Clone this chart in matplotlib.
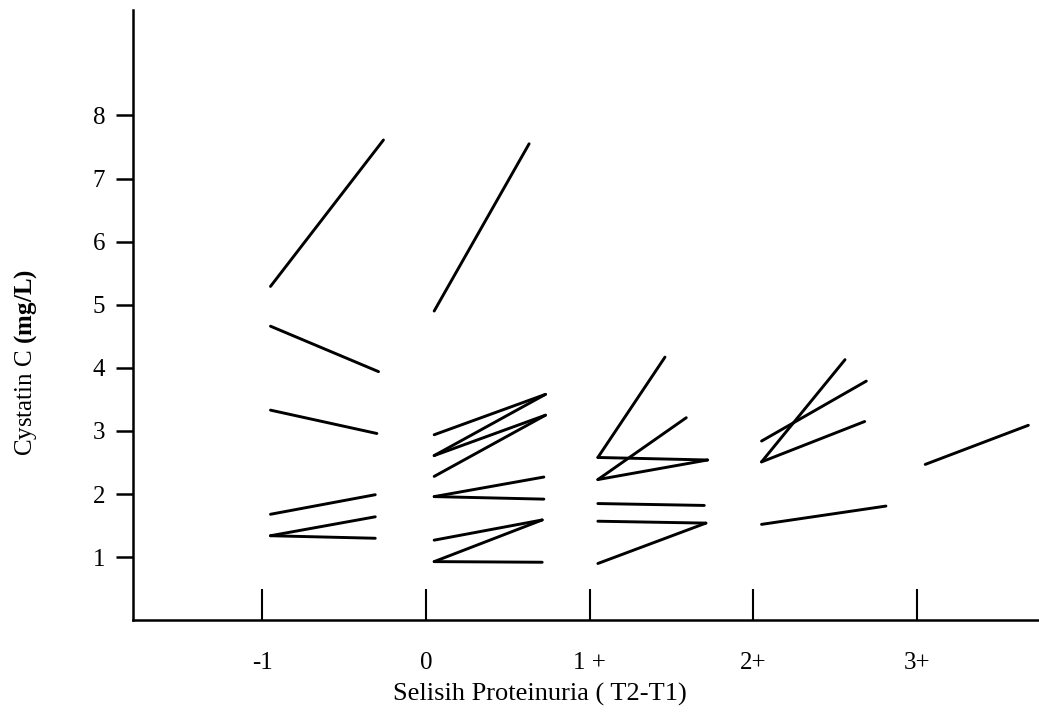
import matplotlib
matplotlib.use("Agg")
import matplotlib.pyplot as plt

plt.rcParams['font.family'] = ['Liberation Serif', 'DejaVu Serif']
plt.rcParams['mathtext.fontset'] = 'custom'
plt.rcParams['mathtext.rm'] = 'Liberation Serif'
plt.rcParams['mathtext.bf'] = 'Liberation Serif:bold'

# categories of proteinuria difference (T2-T1)
categories = ['-1', '0', '1 +', '2+', '3+']

# cystatin C at T1 and T2 for each patient, per category
t1_m1 = [5.29, 4.66, 3.33, 1.68, 1.34, 1.34]
t2_m1 = [7.61, 3.94, 2.96, 1.99, 1.64, 1.30]
t1_0 = [4.90, 2.94, 2.61, 2.61, 2.28, 1.96, 1.96, 1.27, 0.93, 0.93]
t2_0 = [7.55, 3.58, 3.58, 3.25, 3.25, 2.27, 1.92, 1.59, 1.59, 0.92]
t1_1 = [2.58, 2.58, 2.23, 2.23, 1.85, 1.57, 0.90]
t2_1 = [4.17, 2.54, 3.21, 2.54, 1.82, 1.54, 1.54]
t1_2 = [2.51, 2.51, 2.84, 1.52]
t2_2 = [4.13, 3.15, 3.79, 1.81]
t1_3 = [2.47]
t2_3 = [3.09]

# horizontal end of each T2 point, as offset from its category tick
x2_m1 = [0.74, 0.71, 0.70, 0.69, 0.69, 0.69]
x2_0 = [0.63, 0.73, 0.73, 0.73, 0.73, 0.72, 0.72, 0.71, 0.71, 0.71]
x2_1 = [0.46, 0.72, 0.59, 0.72, 0.70, 0.71, 0.71]
x2_2 = [0.56, 0.68, 0.69, 0.81]
x2_3 = [0.68]

groups = [(t1_m1, t2_m1, x2_m1), (t1_0, t2_0, x2_0), (t1_1, t2_1, x2_1),
          (t1_2, t2_2, x2_2), (t1_3, t2_3, x2_3)]

fig = plt.figure(figsize=(10.39, 7.13), dpi=100)
ax = fig.add_axes([0.128, 0.130, 0.872, 0.856])

for i, (t1, t2, x2) in enumerate(groups):
    for a, b, dx in zip(t1, t2, x2):
        ax.plot([i + 0.05, i + dx], [a, b], color='black', lw=2.1,
                solid_capstyle='round')

ax.set_xlim(-0.79, 4.745)
ax.set_ylim(0, 9.67)
ax.set_xticks(range(len(categories)))
ax.set_xticklabels(categories)
ax.set_yticks(range(1, 9))

for s in ['top', 'right']:
    ax.spines[s].set_visible(False)
for s in ['left', 'bottom']:
    ax.spines[s].set_linewidth(1.8)

ax.tick_params(axis='y', direction='out', length=12, width=1.8, pad=8, labelsize=18)
ax.tick_params(axis='x', direction='in', length=22, width=1.5, pad=23, labelsize=18)

ax.set_xlabel('Selisih Proteinuria ( T2-T1)', fontsize=19)
ax.set_ylabel(r'Cystatin C $\mathbf{(mg/L)}$', fontsize=18)
ax.xaxis.set_label_coords(0.449, -0.102)
ax.yaxis.set_label_coords(-0.104, 0.423)

fig.savefig('out.png', dpi=100)
